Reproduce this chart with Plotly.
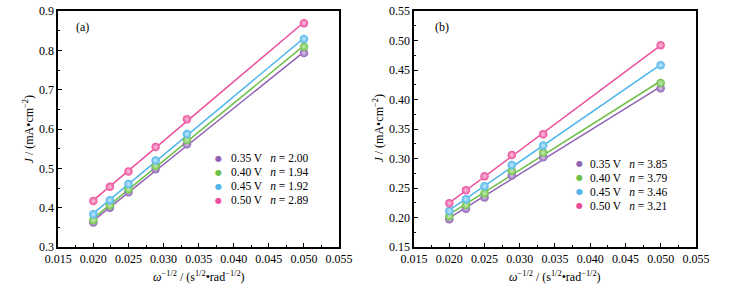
import numpy as np
import plotly.graph_objects as go

# ---------------- data ----------------
x_vals = [0.02000, 0.02236, 0.02500, 0.02887, 0.03333, 0.05000]
voltages = ["0.35 V", "0.40 V", "0.45 V", "0.50 V"]
n_a = ["2.00", "1.94", "1.92", "2.89"]
n_b = ["3.85", "3.79", "3.46", "3.21"]

J_a_035 = [0.362, 0.400, 0.439, 0.498, 0.561, 0.793]
J_a_040 = [0.368, 0.406, 0.447, 0.506, 0.572, 0.809]
J_a_045 = [0.383, 0.419, 0.460, 0.520, 0.587, 0.829]
J_a_050 = [0.417, 0.453, 0.492, 0.554, 0.625, 0.869]

J_b_035 = [0.197, 0.215, 0.234, 0.271, 0.302, 0.419]
J_b_040 = [0.202, 0.221, 0.241, 0.279, 0.310, 0.428]
J_b_045 = [0.211, 0.231, 0.253, 0.289, 0.322, 0.458]
J_b_050 = [0.224, 0.246, 0.270, 0.306, 0.341, 0.492]

x_ticks = [0.015, 0.020, 0.025, 0.030, 0.035, 0.040, 0.045, 0.050, 0.055]
y_ticks_a = [0.3, 0.4, 0.5, 0.6, 0.7, 0.8, 0.9]
y_ticks_b = [0.15, 0.20, 0.25, 0.30, 0.35, 0.40, 0.45, 0.50, 0.55]

colors = ["#9063B5", "#6DBF47", "#4FB5EA", "#EC4E9C"]
light = ["#D9C6EA", "#C9EDB8", "#C8E9FA", "#F9C4DE"]

W, H = 732, 291
T, B = 11, 291 - 247
FONT = "Liberation Serif"

fig = go.Figure()

def px2x(p):
    return p / W

def px2y(p):
    return (247 - p) / (247 - 11)

series_a = [J_a_035, J_a_040, J_a_045, J_a_050]
series_b = [J_b_035, J_b_040, J_b_045, J_b_050]

for xa, ya, series in (("x", "y", series_a), ("x2", "y2", series_b)):
    for i, ys in enumerate(series):
        k, b = np.polyfit(x_vals, ys, 1)
        xf = [min(x_vals), max(x_vals)]
        yf = [k * v + b for v in xf]
        fig.add_trace(go.Scatter(x=xf, y=yf, mode="lines",
                                 line=dict(color=colors[i], width=1.5),
                                 xaxis=xa, yaxis=ya, showlegend=False, hoverinfo="skip"))
    for i, ys in enumerate(series):
        fig.add_trace(go.Scatter(x=x_vals, y=ys, mode="markers",
                                 marker=dict(size=8.5, color=colors[i],
                                             gradient=dict(type="radial", color=light[i]),
                                             line=dict(width=0)),
                                 xaxis=xa, yaxis=ya, showlegend=False))

axis_common = dict(
    showline=True, linecolor="black", linewidth=1.5, mirror=True,
    ticks="inside", ticklen=4, tickwidth=1, tickcolor="black",
    showgrid=False, zeroline=False, ticklabeloverflow="allow",
    tickfont=dict(family=FONT, size=12, color="black"),
)
minor_common = dict(ticks="inside", ticklen=2, tickwidth=1, tickcolor="black", showgrid=False)

xdom1 = [px2x(46), px2x(338)]
xdom2 = [px2x(416), px2x(709)]

fig.update_layout(
    width=W, height=H,
    margin=dict(l=0, r=0, t=T, b=B),
    paper_bgcolor="white", plot_bgcolor="white",
    showlegend=False,
    font=dict(family=FONT, size=12, color="black"),
    xaxis=dict(domain=xdom1, range=[0.015, 0.055], tickvals=x_ticks, tickformat=".3f",
               minor=dict(dtick=0.0025, **minor_common), anchor="y", **axis_common),
    yaxis=dict(domain=[0, 1], range=[0.3, 0.9], tickvals=y_ticks_a, tickformat=".1f",
               minor=dict(dtick=0.05, **minor_common), anchor="x", **axis_common),
    xaxis2=dict(domain=xdom2, range=[0.015, 0.055], tickvals=x_ticks, tickformat=".3f",
                minor=dict(dtick=0.0025, **minor_common), anchor="y2", **axis_common),
    yaxis2=dict(domain=[0, 1], range=[0.15, 0.55], tickvals=y_ticks_b, tickformat=".2f",
                minor=dict(dtick=0.025, **minor_common), anchor="x2", **axis_common),
)

ann = []
xtitle = "<i>ω</i><sup>−1/2</sup> / (s<sup>1/2</sup>•rad<sup>−1/2</sup>)"
ytitle = "<i>J</i> / (mA•cm<sup>−2</sup>)"
for cx in (192, 562):
    ann.append(dict(x=px2x(cx), y=px2y(276), xref="paper", yref="paper", text=xtitle,
                    showarrow=False, font=dict(family=FONT, size=12, color="black"),
                    xanchor="center", yanchor="middle"))
for cx in (15, 378):
    ann.append(dict(x=px2x(cx), y=px2y(129), xref="paper", yref="paper", text=ytitle,
                    textangle=-90, showarrow=False, font=dict(family=FONT, size=12, color="black"),
                    xanchor="center", yanchor="middle"))
for cx, lab in ((62, "(a)"), (436, "(b)")):
    ann.append(dict(x=px2x(cx), y=px2y(27), xref="paper", yref="paper", text=lab,
                    showarrow=False, font=dict(family=FONT, size=12, color="black"),
                    xanchor="left", yanchor="middle"))

legends = [(213, 224, [158.3, 172.3, 186.3, 200.3], n_a),
           (588, 597, [163.5, 177.5, 191.5, 205.5], n_b)]
for mx, tx, rows, nvals in legends:
    for i, ry in enumerate(rows):
        ann.append(dict(x=px2x(mx), y=px2y(ry), xref="paper", yref="paper", text="●",
                        showarrow=False, font=dict(family="DejaVu Sans", size=8, color=colors[i]),
                        xanchor="center", yanchor="middle"))
        ann.append(dict(x=px2x(tx), y=px2y(ry), xref="paper", yref="paper",
                        text=f"{voltages[i]}\u00a0\u00a0\u2009<i>n</i> = {nvals[i]}",
                        showarrow=False, font=dict(family=FONT, size=11.5, color="black"),
                        xanchor="left", yanchor="middle"))
fig.update_layout(annotations=ann)

fig.write_html("out.html", config={"displayModeBar": False},
               post_script="document.body.style.margin='0';document.body.style.overflow='hidden';")
